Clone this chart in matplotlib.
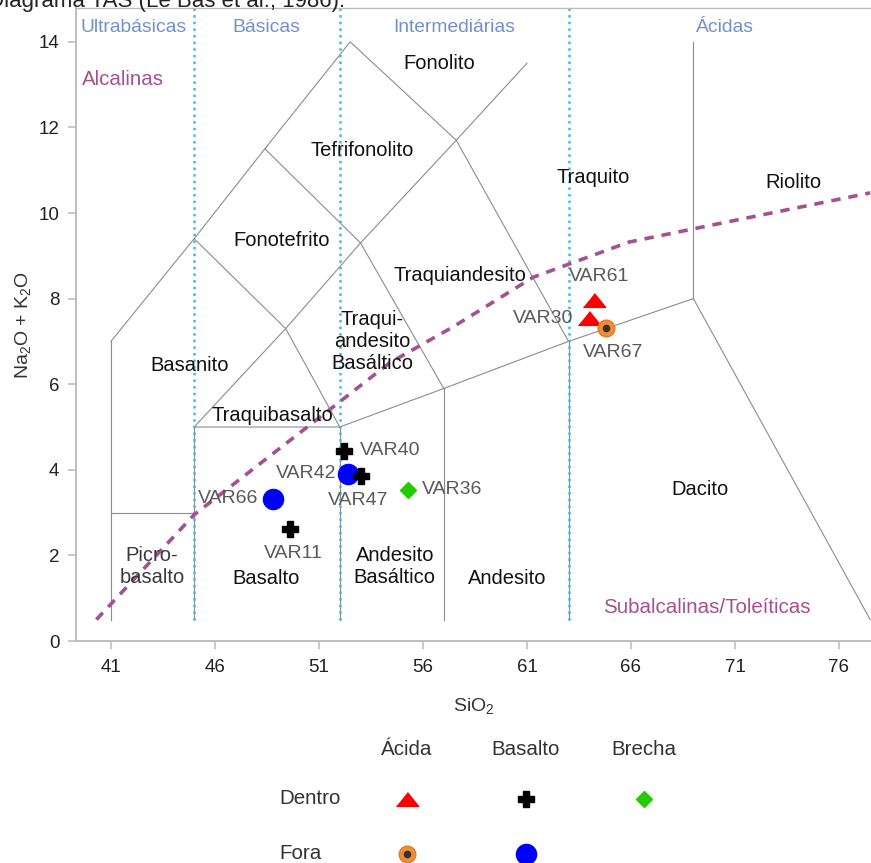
import matplotlib
matplotlib.use("Agg")
import matplotlib.pyplot as plt

plt.rcParams['font.family'] = ['Liberation Sans', 'DejaVu Sans']
plt.rcParams['mathtext.default'] = 'regular'

# Amostras
amostras = ['VAR61', 'VAR30', 'VAR67', 'VAR40', 'VAR42', 'VAR47', 'VAR66', 'VAR11', 'VAR36']
sio2 = [64.2, 64.0, 64.8, 52.2, 52.4, 53.0, 48.8, 49.6, 55.3]
alcalis = [7.97, 7.55, 7.31, 4.44, 3.90, 3.86, 3.32, 2.62, 3.53]
tipo = ['Ácida', 'Ácida', 'Ácida', 'Basalto', 'Basalto', 'Basalto', 'Basalto', 'Basalto', 'Brecha']
local = ['Dentro', 'Dentro', 'Fora', 'Dentro', 'Fora', 'Dentro', 'Fora', 'Dentro', 'Dentro']

# deslocamento dos rótulos (pt) e alinhamento
desloc = [(4, 16.5), (-11.5, -0.5), (5, -17.5), (11.5, 0), (-8.5, 0.7),
          (-1.5, -18), (-10.8, 0), (2.2, -17.5), (10, 0)]
alinh = ['center', 'right', 'center', 'left', 'right', 'center', 'right', 'center', 'left']

# curva alcalina / subalcalina
curva_x = [40.3, 45, 51.5, 54.4, 57.45, 61.3, 65.9, 69, 77.5]
curva_y = [0.5, 2.95, 5.4, 6.5, 7.34, 8.5, 9.32, 9.63, 10.47]

# limites dos campos TAS (Le Bas et al., 1986)
campos = [
    [(41, 0.5), (41, 7)],
    [(41, 3), (45, 3)],
    [(45, 0.5), (45, 5)],
    [(52, 0.5), (52, 5)],
    [(57, 0.5), (57, 5.9)],
    [(63, 0.5), (63, 7)],
    [(45, 5), (52, 5), (57, 5.9), (63, 7), (69, 8), (77.5, 0.5)],
    [(69, 8), (69, 14)],
    [(41, 7), (45, 9.4), (48.4, 11.5), (52.5, 14), (57.6, 11.7), (61, 13.5)],
    [(45, 5), (49.4, 7.3), (52, 5)],
    [(45, 9.4), (49.4, 7.3), (53, 9.3), (57, 5.9)],
    [(48.4, 11.5), (53, 9.3), (57.6, 11.7), (63, 7)],
]

nomes = [
    ('Fonolito', 56.77, 13.5), ('Tefrifonolito', 53.07, 11.45), ('Fonotefrito', 49.22, 9.35),
    ('Traquito', 64.17, 10.82), ('Riolito', 73.79, 10.72), ('Traquiandesito', 57.78, 8.55),
    ('Traqui-\nandesito\nBasáltico', 53.55, 7.0), ('Basanito', 44.8, 6.43),
    ('Traquibasalto', 48.74, 5.28), ('Basalto', 48.45, 1.47),
    ('Andesito\nBasáltico', 54.65, 1.73), ('Andesito', 60.04, 1.47), ('Dacito', 69.3, 3.55),
]

grupos = [('Ultrabásicas', 42.1), ('Básicas', 48.45), ('Intermediárias', 57.5), ('Ácidas', 70.5)]
divisoes = [45, 52, 63]

tri = [(-1, -0.62), (1, -0.62), (0, 0.62)]
estilos = {
    ('Ácida', 'Dentro'): dict(marker=tri, color='#FF0000', ms=16),
    ('Basalto', 'Dentro'): dict(marker='P', color='black', ms=12),
    ('Brecha', 'Dentro'): dict(marker='D', color='#22CC00', ms=8),
    ('Basalto', 'Fora'): dict(marker='o', color='#0000FF', ms=14.5),
}


def desenha_marca(ax, x, y, t, l):
    if (t, l) == ('Ácida', 'Fora'):
        ax.plot(x, y, 'o', color='#F08C3A', ms=12, mec='#E07A2A', zorder=5, clip_on=False)
        ax.plot(x, y, 'o', color='#333333', ms=4.5, zorder=6, clip_on=False)
    else:
        st = estilos[(t, l)]
        ax.plot(x, y, linestyle='none', marker=st['marker'], color=st['color'],
                ms=st['ms'], zorder=5, clip_on=False)


fig = plt.figure(figsize=(8.71, 8.63), dpi=100)
ax = fig.add_axes([76 / 871, 222 / 863, 795 / 871, 633 / 863])

for seg in campos:
    xs, ys = zip(*seg)
    ax.plot(xs, ys, color='#8C8C8C', lw=0.8, zorder=1)

for d in divisoes:
    ax.plot([d, d], [0.5, 14.8], color='#3DBBEA', lw=1.8, ls=':', zorder=2)

ax.plot(curva_x, curva_y, color='#A64F92', lw=2.6, ls=(0, (2.6, 2.2)), zorder=3)

for nome, x, y in nomes:
    ax.text(x, y, nome, ha='center', va='center', fontsize=14.5, color='#111111',
            linespacing=1.2, zorder=4)
ax.text(42.97, 1.75, 'Picro-\nbasalto', ha='center', va='center', fontsize=14.5,
        color='#3A3A3A', linespacing=1.2, zorder=4)

for nome, x in grupos:
    ax.text(x, 14.33, nome, ha='center', va='center', fontsize=13.9, color='#7290CF')
ax.text(41.6, 13.13, 'Alcalinas', ha='center', va='center', fontsize=14.8, color='#A64F92')
ax.text(69.65, 0.79, 'Subalcalinas/Toleíticas', ha='center', va='center', fontsize=14.8,
        color='#A64F92')

for i in range(len(amostras)):
    desenha_marca(ax, sio2[i], alcalis[i], tipo[i], local[i])
    ax.annotate(amostras[i], (sio2[i], alcalis[i]), xytext=desloc[i], textcoords='offset points',
                ha=alinh[i], va='center', fontsize=14, color='#595959', zorder=7)

ax.set_xlim(39.32, 77.54)
ax.set_ylim(0, 14.79)
ax.set_xticks(range(41, 77, 5))
ax.set_yticks(range(0, 15, 2))
ax.tick_params(direction='out', length=6, width=1.2, color='#BDBDBD',
               labelsize=13.5, labelcolor='#222222', pad=6)
ax.tick_params(axis='x', pad=7)
for s in ['left', 'bottom', 'top']:
    ax.spines[s].set_color('#BDBDBD')
    ax.spines[s].set_linewidth(1.4)
ax.spines['top'].set_linewidth(1.0)
ax.spines['right'].set_visible(False)

ax.set_xlabel('SiO$_2$', fontsize=14, color='#333333', labelpad=14)
ax.set_ylabel('Na$_2$O + K$_2$O', fontsize=14, color='#333333', labelpad=4)

fig.text(345 / 871, 1 - 7 / 863, 'Diagrama TAS (Le Bas et al., 1986).', ha='right',
         va='baseline', fontsize=16, color='#222222')

# legenda em grade: colunas = tipo, linhas = local
colunas = ['Ácida', 'Basalto', 'Brecha']
linhas = ['Dentro', 'Fora']
leg = fig.add_axes([250 / 871, 0, 470 / 871, 143 / 863])
leg.set_xlim(-1.325, 2.641)
leg.set_ylim(1.208, -1.49)
leg.axis('off')
for j, c in enumerate(colunas):
    leg.text(j, -0.93, c, ha='center', va='center', fontsize=14.8, color='#333333')
for i, l in enumerate(linhas):
    leg.text(-1.08, i + 0.03 * i, l, ha='left', va='center', fontsize=14.8, color='#333333')
    for j, c in enumerate(colunas):
        if (c, l) in estilos or (c, l) == ('Ácida', 'Fora'):
            desenha_marca(leg, j, i + 0.03 * i, c, l)

fig.savefig('out.png', dpi=100)
